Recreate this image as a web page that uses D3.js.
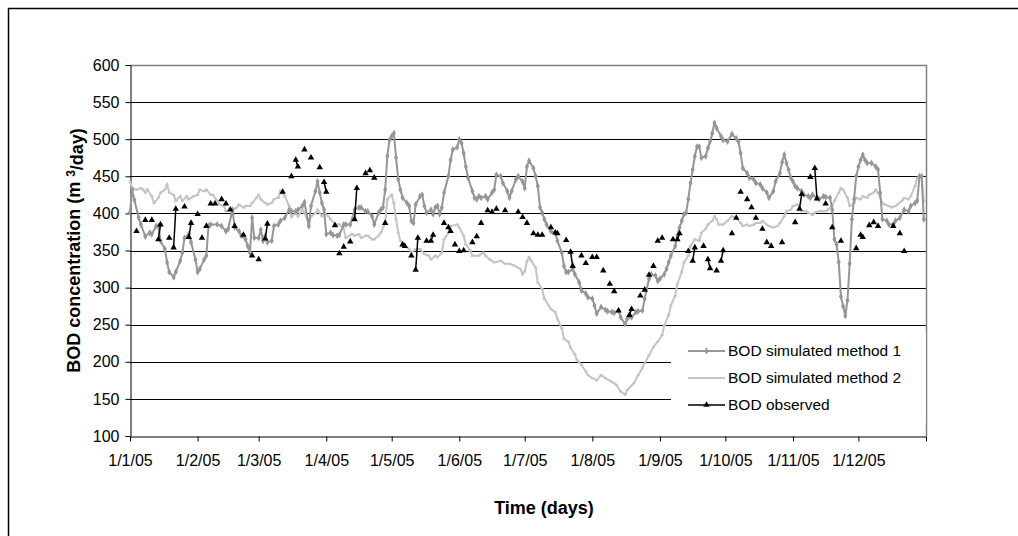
<!DOCTYPE html>
<html>
<head>
<meta charset="utf-8">
<script src="https://cdn.jsdelivr.net/npm/d3@7"></script>
<style>
  body { margin: 0; background: #fff; }
  svg { display: block; font-family: Arial, "Liberation Sans", sans-serif; }
</style>
</head>
<body>
<div id="chart"></div>
<script>
// BOD concentration, year 2005 — simulated (2 methods) vs observed
// points are [day of year (0 = 1 Jan 2005), m3/day]

const monthLabels = ['1/1/05', '1/2/05', '1/3/05', '1/4/05', '1/5/05', '1/6/05', '1/7/05',
  '1/8/05', '1/9/05', '1/10/05', '1/11/05', '1/12/05', ''];
const yTicks = [100, 150, 200, 250, 300, 350, 400, 450, 500, 550, 600];
const seriesNames = ['BOD simulated method 1', 'BOD simulated method 2', 'BOD observed'];

const method1 = [[0,402],[1,432],[2,418],[4,394],[5,385],[7,369],[9,374],[10,372],[12,383],[13,383],[14,363],[16,352],[17,334],[18,321],[20,314],[21,321],[23,336],[24,347],[25,367],[27,372],[28,361],[30,338],[31,321],[32,325],[34,338],[35,343],[36,383],[37,385],[40,385],[42,383],[44,376],[45,379],[47,405],[48,381],[50,376],[51,370],[53,365],[54,356],[55,347],[56,394],[57,367],[59,367],[60,378],[61,363],[62,370],[63,361],[65,363],[66,383],[68,385],[69,390],[71,394],[73,405],[74,403],[76,403],[77,405],[79,410],[80,415],[82,383],[83,410],[85,430],[86,443],[87,428],[88,414],[89,405],[90,372],[92,374],[93,371],[95,370],[96,371],[98,385],[99,385],[101,385],[103,405],[105,408],[106,408],[108,403],[109,403],[111,396],[112,385],[114,401],[115,405],[116,408],[117,432],[118,477],[119,499],[120,504],[121,508],[122,475],[123,446],[124,432],[125,421],[127,414],[128,410],[129,390],[130,387],[131,412],[133,423],[134,425],[135,410],[136,401],[138,405],[139,399],[140,408],[141,410],[142,399],[143,408],[144,428],[146,450],[147,472],[148,486],[150,489],[151,500],[152,495],[153,481],[154,463],[155,448],[157,430],[158,421],[159,419],[160,423],[161,421],[163,423],[164,419],[166,428],[167,432],[168,452],[170,450],[171,441],[173,430],[174,421],[175,430],[177,446],[178,450],[180,443],[181,434],[182,463],[183,471],[185,461],[186,450],[187,437],[188,408],[189,401],[190,392],[191,385],[193,376],[195,374],[196,363],[198,347],[199,329],[200,321],[201,321],[203,325],[204,318],[206,307],[207,296],[209,292],[210,287],[212,285],[213,276],[214,265],[216,274],[218,270],[219,268],[221,267],[222,266],[224,269],[225,260],[227,251],[228,258],[230,260],[232,267],[233,268],[235,269],[236,285],[238,312],[239,318],[241,316],[242,309],[243,312],[245,318],[246,325],[247,334],[248,343],[250,356],[251,370],[252,381],[253,390],[254,399],[255,401],[256,419],[257,441],[258,459],[259,477],[260,490],[261,490],[262,475],[264,477],[265,488],[266,497],[267,508],[268,522],[269,515],[271,504],[272,499],[274,497],[276,507],[278,501],[279,497],[280,481],[281,461],[283,454],[284,448],[286,446],[287,441],[289,439],[290,434],[292,428],[293,421],[295,430],[296,443],[298,454],[299,469],[300,479],[301,468],[302,459],[303,448],[304,443],[305,437],[306,434],[308,430],[309,425],[311,423],[312,421],[313,425],[315,421],[316,419],[318,423],[319,422],[321,421],[322,405],[323,365],[324,358],[325,334],[326,288],[327,275],[328,262],[329,283],[330,332],[331,392],[332,419],[333,450],[334,463],[335,472],[336,479],[337,472],[338,468],[340,468],[342,463],[343,459],[344,428],[345,392],[347,390],[348,385],[350,385],[351,390],[353,394],[355,405],[357,403],[358,410],[360,414],[361,417],[362,450],[363,450],[364,392]];

const method2 = [[0,443],[1,434],[3,432],[5,434],[6,432],[7,428],[8,432],[10,423],[11,414],[13,421],[14,428],[16,432],[17,439],[18,428],[20,425],[21,417],[23,423],[24,417],[26,423],[27,419],[29,423],[31,425],[32,432],[34,430],[35,432],[37,425],[38,425],[40,417],[41,412],[43,410],[44,403],[46,405],[47,405],[49,408],[50,412],[52,408],[53,410],[55,410],[56,414],[58,421],[59,425],[60,419],[62,414],[63,412],[65,414],[66,419],[68,421],[69,430],[71,423],[73,410],[74,395],[76,401],[77,396],[79,405],[80,401],[82,385],[83,396],[85,400],[86,405],[88,396],[89,401],[91,396],[92,392],[94,385],[96,385],[98,379],[99,367],[102,372],[103,370],[105,372],[106,367],[108,370],[109,370],[111,365],[112,365],[114,370],[115,374],[117,387],[118,419],[120,425],[121,414],[122,392],[123,374],[124,363],[126,356],[128,352],[129,347],[131,352],[133,352],[135,345],[137,343],[138,338],[140,343],[141,341],[143,347],[144,365],[146,374],[147,383],[150,385],[151,381],[153,370],[154,358],[156,350],[157,343],[160,343],[162,347],[163,343],[165,338],[167,334],[170,336],[172,332],[174,332],[176,330],[179,325],[180,318],[181,322],[182,335],[183,341],[184,336],[186,327],[187,307],[189,298],[190,285],[192,276],[193,271],[195,267],[196,258],[198,245],[199,231],[201,227],[202,219],[204,210],[205,202],[207,196],[209,187],[210,182],[212,178],[214,175],[216,182],[218,178],[221,173],[223,169],[225,160],[227,156],[228,162],[231,171],[233,182],[235,192],[238,209],[240,220],[242,227],[244,236],[245,249],[247,263],[248,276],[250,289],[251,305],[253,321],[254,334],[256,343],[257,356],[259,365],[261,363],[262,374],[264,379],[265,385],[267,390],[268,396],[269,392],[270,385],[272,385],[274,390],[276,396],[278,394],[280,387],[281,383],[283,385],[284,383],[286,385],[287,387],[289,387],[290,390],[292,385],[293,383],[295,381],[297,383],[298,387],[300,396],[301,403],[303,405],[304,410],[306,412],[307,408],[308,403],[310,403],[311,401],[313,398],[314,401],[316,403],[317,403],[319,403],[320,405],[322,410],[323,417],[325,428],[326,434],[327,432],[329,421],[330,410],[332,414],[333,421],[335,419],[336,423],[338,421],[339,425],[341,428],[342,432],[343,428],[345,414],[346,412],[348,410],[349,408],[351,410],[352,412],[354,417],[355,421],[357,419],[358,423],[360,437],[361,448],[363,450],[364,416]];

const observed = [[3,376],[7,391],[10,391],[13,365],[14,385],[18,367],[20,354],[21,406],[25,409],[27,368],[28,387],[31,399],[33,367],[35,383],[37,413],[39,413],[42,419],[44,413],[46,405],[48,383],[52,371],[56,343],[59,338],[62,366],[63,386],[70,429],[74,450],[76,472],[77,463],[80,486],[83,475],[87,462],[89,442],[90,429],[94,384],[96,346],[98,355],[101,362],[103,392],[104,434],[108,454],[110,458],[112,448],[117,387],[125,358],[126,356],[129,343],[131,324],[132,367],[136,363],[138,363],[139,371],[144,387],[146,381],[147,376],[149,358],[151,349],[153,350],[157,361],[159,369],[161,387],[164,404],[166,402],[168,406],[172,404],[178,402],[180,395],[182,387],[185,373],[187,371],[189,371],[193,381],[195,374],[196,373],[200,364],[202,348],[203,329],[207,343],[209,333],[212,341],[214,341],[217,323],[220,305],[222,295],[224,269],[229,263],[230,271],[234,289],[236,297],[238,317],[240,329],[242,363],[244,367],[249,365],[251,365],[252,373],[256,349],[258,336],[259,354],[263,356],[265,338],[266,326],[269,323],[271,336],[272,350],[276,373],[278,394],[280,429],[283,419],[285,408],[287,394],[290,379],[292,361],[294,356],[299,361],[305,388],[307,406],[308,426],[312,449],[314,461],[315,420],[319,413],[322,381],[326,363],[333,353],[335,371],[336,368],[339,384],[341,388],[343,383],[350,383],[353,373],[355,349]];

const C1 = '#969696', C2 = '#c4c4c4', C3 = '#000';

const W = 1018, H = 536;
const PLOT = { left: 130, right: 926, top: 65, bottom: 436 };

const start = new Date(2005, 0, 1);
const toDate = d => d3.timeDay.offset(start, d);
const monthDates = d3.timeMonth.range(start, new Date(2006, 0, 2));

const x = d3.scaleTime().domain([start, new Date(2006, 0, 1)]).range([PLOT.left, PLOT.right]);
const y = d3.scaleLinear().domain([100, 600]).range([PLOT.bottom, PLOT.top]);

const svg = d3.select('#chart').append('svg')
  .attr('width', W).attr('height', H);

// outer frame (only top/left edges show in the picture)
svg.append('path')
  .attr('d', `M8.5,${H} V8.5 H${W}`)
  .attr('fill', 'none').attr('stroke', '#000').attr('stroke-width', 1.5);

// gridlines
svg.append('g').selectAll('line')
  .data(yTicks.filter(v => v > 100 && v < 600))
  .join('line')
  .attr('x1', PLOT.left).attr('x2', PLOT.right)
  .attr('y1', d => Math.round(y(d)) + 0.5).attr('y2', d => Math.round(y(d)) + 0.5)
  .attr('stroke', '#000').attr('stroke-width', 1);

// plot area border (top / right)
svg.append('path')
  .attr('d', `M${PLOT.left},${PLOT.top + 0.5} H${PLOT.right + 0.5} V${PLOT.bottom}`)
  .attr('fill', 'none').attr('stroke', '#808080').attr('stroke-width', 1.5);

// axes
const yAxis = svg.append('g')
  .attr('transform', `translate(${PLOT.left + 0.5},0)`)
  .call(d3.axisLeft(y).tickValues(yTicks).tickSize(5).tickSizeOuter(0).tickPadding(6));
const xAxis = svg.append('g')
  .attr('transform', `translate(0,${PLOT.bottom + 0.5})`)
  .call(d3.axisBottom(x).tickValues(monthDates).tickFormat((d, i) => monthLabels[i])
    .tickSize(5).tickSizeOuter(0).tickPadding(13));
[yAxis, xAxis].forEach(a => {
  a.selectAll('path, line').attr('stroke', '#000');
  a.selectAll('text').style('font-size', '16px').attr('fill', '#000')
    .style('font-family', 'Arial, "Liberation Sans", sans-serif');
});

const line = d3.line().x(d => x(toDate(d[0]))).y(d => y(d[1]));

// method 2 (light)
svg.append('path').datum(method2)
  .attr('d', line).attr('fill', 'none').attr('stroke', C2).attr('stroke-width', 2);
svg.append('g').selectAll('rect').data(method2).join('rect')
  .attr('x', d => x(toDate(d[0])) - 1.5).attr('y', d => y(d[1]) - 1)
  .attr('width', 3).attr('height', 2).attr('fill', C2);

// method 1
svg.append('path').datum(method1)
  .attr('d', line).attr('fill', 'none').attr('stroke', C1).attr('stroke-width', 2);
svg.append('g').selectAll('path').data(method1).join('path')
  .attr('transform', d => `translate(${x(toDate(d[0]))},${y(d[1])})`)
  .attr('d', d3.symbol(d3.symbolDiamond, 14)).attr('fill', C1);

// observed: join only consecutive days
const obsSegs = d3.pairs(observed).filter(([a, b]) => b[0] - a[0] === 1);
svg.append('g').selectAll('path').data(obsSegs).join('path')
  .attr('d', line).attr('fill', 'none').attr('stroke', C3).attr('stroke-width', 1.5);
svg.append('g').selectAll('path').data(observed).join('path')
  .attr('transform', d => `translate(${x(toDate(d[0]))},${y(d[1])})`)
  .attr('d', d3.symbol(d3.symbolTriangle, 18)).attr('fill', C3);

// legend
const leg = svg.append('g');
leg.append('rect').attr('x', 671).attr('y', 333).attr('width', 255).attr('height', 90).attr('fill', '#fff');
const legItems = [
  { name: seriesNames[0], color: C1, mark: 'diamond', w: 2 },
  { name: seriesNames[1], color: C2, mark: 'dash', w: 2 },
  { name: seriesNames[2], color: C3, mark: 'tri', w: 1.5 }
];
legItems.forEach((it, i) => {
  const ly = 351 + i * 27;
  leg.append('line').attr('x1', 688).attr('x2', 725).attr('y1', ly).attr('y2', ly)
    .attr('stroke', it.color).attr('stroke-width', it.w);
  if (it.mark === 'dash') {
    leg.append('rect').attr('x', 705).attr('y', ly - 1).attr('width', 3).attr('height', 2).attr('fill', it.color);
  } else {
    leg.append('path').attr('transform', `translate(706.5,${ly})`)
      .attr('d', d3.symbol(it.mark === 'tri' ? d3.symbolTriangle : d3.symbolDiamond, it.mark === 'tri' ? 18 : 14))
      .attr('fill', it.color);
  }
  leg.append('text').attr('x', 728).attr('y', ly).attr('dy', '0.35em')
    .style('font-size', '15.5px').text(it.name);
});

// axis titles
const yt = svg.append('text')
  .attr('transform', `translate(80,${(PLOT.top + PLOT.bottom) / 2}) rotate(-90)`)
  .attr('text-anchor', 'middle')
  .style('font-size', '18px').style('font-weight', 'bold');
yt.append('tspan').text('BOD concentration (m ');
yt.append('tspan').attr('dy', '-0.45em').style('font-size', '12px').text('3');
yt.append('tspan').attr('dy', '0.45em').text('/day)');

svg.append('text')
  .attr('x', 544).attr('y', 514).attr('text-anchor', 'middle')
  .style('font-size', '18px').style('font-weight', 'bold')
  .text('Time (days)');
</script>
</body>
</html>
